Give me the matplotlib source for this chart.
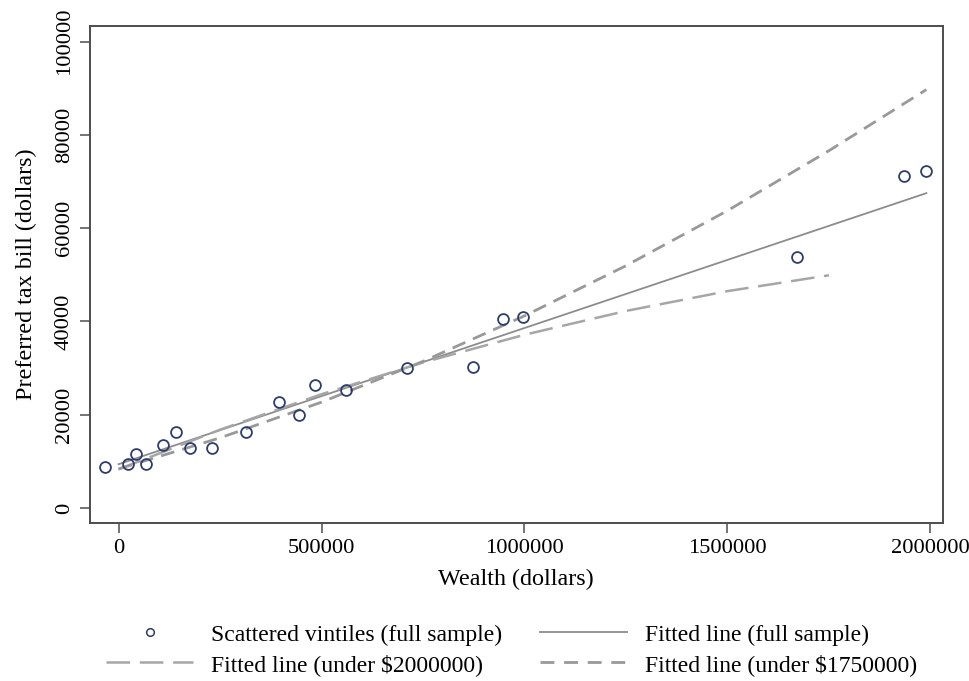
import matplotlib
matplotlib.use("Agg")
import matplotlib.pyplot as plt
from matplotlib.lines import Line2D

plt.rcParams["font.family"] = ["Liberation Serif", "DejaVu Serif"]
plt.rcParams["lines.scale_dashes"] = False

# Vintile means (wealth, preferred tax bill)
vintile_wealth = [-33000, 24000, 44000, 68000, 109000, 142000, 177000, 231000,
                  313000, 396000, 444000, 483000, 561000, 711000, 874000,
                  947000, 997000, 1672000, 1936000, 1989000]
vintile_tax = [8800, 9400, 11600, 9400, 13500, 16300, 12900, 12900,
               16300, 22700, 19900, 26400, 25300, 30000, 30200,
               40500, 41000, 53900, 71200, 72200]

# Linear fit, full sample
full_wealth = [0, 1990000]
full_tax = [9400, 67500]

# Fit on households under $2,000,000
under2m_wealth = [0, 250000, 500000, 750000, 1000000, 1250000, 1500000, 1750000]
under2m_tax = [8300, 16800, 24400, 31200, 37150, 42250, 46500, 49900]

# Fit on households under $1,750,000
under175m_wealth = [0, 250000, 500000, 750000, 1000000, 1250000, 1500000,
                    1750000, 1990000]
under175m_tax = [8400, 15050, 22700, 31450, 41200, 51950, 63750, 76600, 89700]

x_ticks = [0, 500000, 1000000, 1500000, 2000000]
y_ticks = [0, 20000, 40000, 60000, 80000, 100000]

fig = plt.figure(figsize=(9.69, 6.81), dpi=100)
ax = fig.add_axes([0.0924, 0.232, 0.8808, 0.7303])

frame_col = "#4d4d4d"
marker_col = "#2e3d6b"
ax.plot(full_wealth, full_tax, color="#8c8c8c", lw=1.3, zorder=2)
ax.plot(under2m_wealth, under2m_tax, color="#a6a6a6", lw=1.8,
        dashes=(17, 7), zorder=2)
ax.plot(under175m_wealth, under175m_tax, color="#999999", lw=2.0,
        dashes=(10, 6), zorder=2)
ax.plot(vintile_wealth, vintile_tax, linestyle="none", marker="o",
        markersize=7.8, markerfacecolor="none", markeredgecolor=marker_col,
        markeredgewidth=1.3, zorder=3)

ax.set_xlim(-71400, 2031000)
ax.set_ylim(-3200, 103400)
ax.set_xticks(x_ticks)
ax.set_xticklabels([str(v) for v in x_ticks])
ax.set_yticks(y_ticks)
ax.set_yticklabels([str(v) for v in y_ticks], rotation=90, va="center")

for s in ax.spines.values():
    s.set_color(frame_col)
    s.set_linewidth(1.4)
ax.tick_params(direction="out", length=7.2, width=1.1, color=frame_col,
               labelsize=16.2)
ax.tick_params(axis="x", pad=4.5)
ax.tick_params(axis="y", pad=4)

ax.set_xlabel("Wealth (dollars)", fontsize=17.4, labelpad=8)
ax.set_ylabel("Preferred tax bill (dollars)", fontsize=17.4, labelpad=13)

handles = [
    Line2D([], [], linestyle="none", marker="o", markersize=5.5,
           markerfacecolor="none", markeredgecolor=marker_col, markeredgewidth=1.1),
    Line2D([], [], color="#a6a6a6", lw=1.8, dashes=(17, 7)),
    Line2D([], [], color="#8c8c8c", lw=1.3),
    Line2D([], [], color="#999999", lw=2.0, dashes=(10, 7)),
]
labels = [
    "Scattered vintiles (full sample)",
    "Fitted line (under $2000000)",
    "Fitted line (full sample)",
    "Fitted line (under $1750000)",
]
fig.legend(handles, labels, ncol=2, loc="upper center",
           bbox_to_anchor=(0.528, 0.108), frameon=False, fontsize=17.0,
           handlelength=3.7, handletextpad=0.75, columnspacing=1.6,
           labelspacing=0.35, borderpad=0.2)

fig.savefig("out.png", dpi=100)
